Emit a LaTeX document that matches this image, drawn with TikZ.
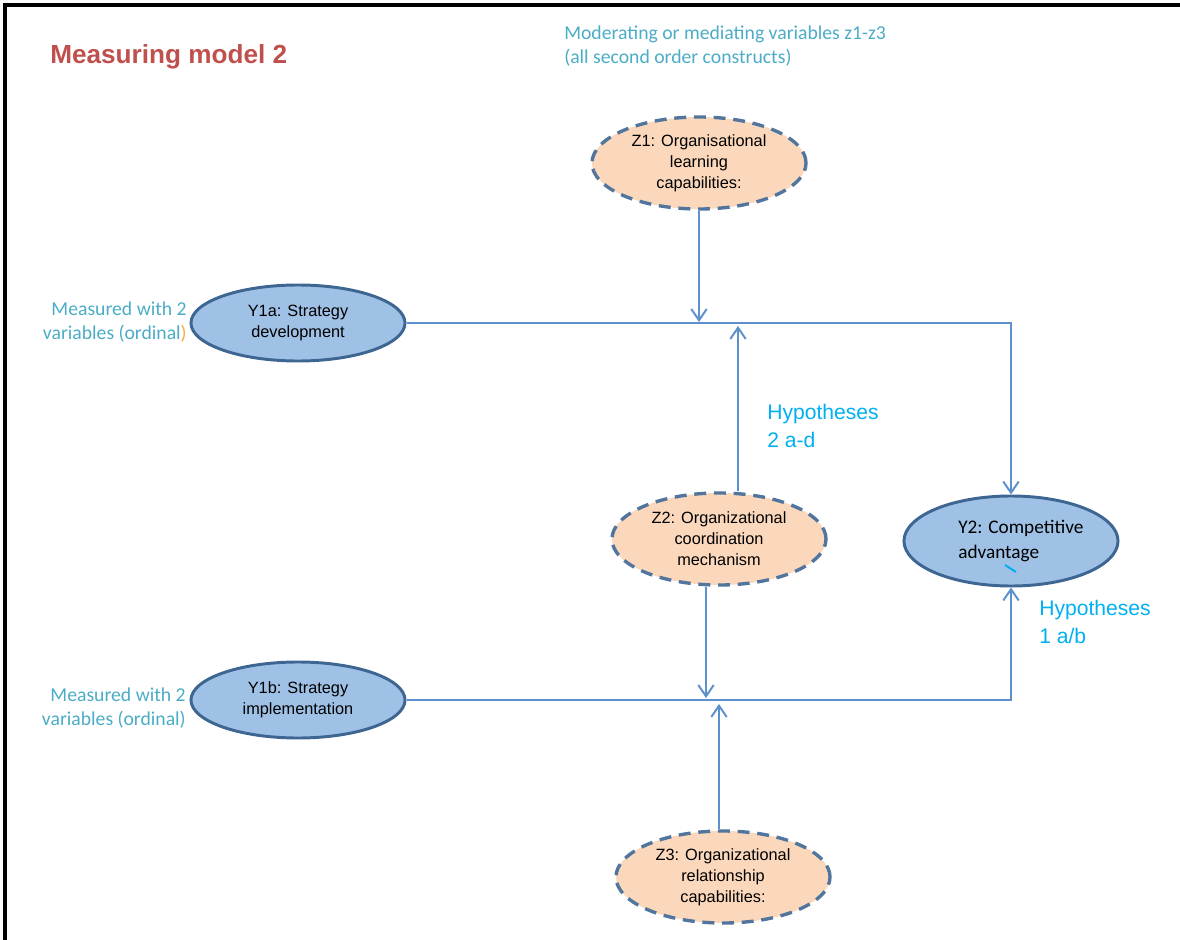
\documentclass[tikz,border=0pt]{standalone}
\usepackage{fontspec}
\setmainfont{Liberation Sans}
\newfontfamily\calib{Carlito}
\usetikzlibrary{shapes.geometric, arrows.meta, calc}
\definecolor{titlered}{RGB}{192,80,77}
\definecolor{notecyan}{RGB}{75,172,198}
\definecolor{hypblue}{RGB}{0,176,240}
\definecolor{linkblue}{RGB}{92,145,205}
\definecolor{yfill}{RGB}{160,193,230}
\definecolor{ydraw}{RGB}{62,102,146}
\definecolor{zfill}{RGB}{251,216,188}
\definecolor{ordorange}{RGB}{245,175,60}

\begin{document}
\begin{tikzpicture}[x=0.025cm, y=-0.025cm,
    latent/.style={draw=ydraw, fill=yfill, line width=2.1pt, ellipse, inner sep=0pt, align=center,
        minimum width=5.35cm, font=\fontsize{11.6}{14.9}\selectfont},
    moder/.style={draw=ydraw!90, fill=zfill, line width=2.4pt, dash pattern=on 8.5pt off 5.5pt, ellipse,
        inner sep=0pt, align=center, minimum width=5.35cm, minimum height=2.3cm,
        font=\fontsize{11.6}{14.9}\selectfont},
    note/.style={text=notecyan, inner sep=0pt, font=\calib\fontsize{14}{17.7}\selectfont},
    hyp/.style={text=hypblue, inner sep=0pt, align=left, anchor=west, font=\fontsize{15}{19.8}\selectfont},
    link/.style={draw=linkblue, line width=1.4pt, -{Straight Barb[length=8pt, width=11pt]}}]

    \useasboundingbox (0,0) rectangle (1180,940);
    \draw[line width=2.4pt] (5,940) -- (5,5) -- (1180,5);

    \node (title) [anchor=west, inner sep=0pt, text=titlered, font=\bfseries\fontsize{18.6}{22}\selectfont] at (50,57) {Measuring model 2};
    \node (modnote) [note, anchor=west, align=left] at (564,46) {Moderating or mediating variables z1-z3\\(all second order constructs)};

    \node (z1) [moder] at (699,163) {Z1: Organisational\\learning\\capabilities:};
    \node (z2) [moder] at (719,539) {Z2: Organizational\\coordination\\mechanism};
    \node (z3) [moder] at (723,877) {Z3: Organizational\\relationship\\capabilities:};

    \node (y1a) [latent, minimum height=1.9cm] at (298,323) {Y1a: Strategy\\development};
    \node (y1b) [latent, minimum height=1.9cm] at (298,700) {Y1b: Strategy\\implementation};
    \node (y2) [latent, minimum height=2.25cm, align=left, font=\calib\fontsize{13.7}{17.7}\selectfont] at (1011,541) {\hspace*{14pt}Y2: Competitive\\\hspace*{14pt}advantage};

    \node (mesa) [note, anchor=east, align=right] at (187,322) {Measured with 2\\variables (ordinal\textcolor{ordorange}{)}};
    \node (mesb) [note, anchor=east, align=right] at (186,708) {Measured with 2\\variables (ordinal)};

    \node (hyp2) [hyp] at (767,426) {Hypotheses\\2 a-d};
    \node (hyp1) [hyp] at (1039,622) {Hypotheses\\1 a/b};

    \coordinate (m1) at (699,322);
    \coordinate (m2) at (738,326);
    \coordinate (m3) at (706,698);
    \coordinate (m4) at (719,704);

    \draw[link] (y1a.east) -| (y2);
    \draw[link] (y1b.east) -| (y2);
    \draw[link] (z1.south -| m1) -- (m1);
    \draw[link] (z2.north -| m2) -- (m2);
    \draw[link] (z2.south -| m3) -- (m3);
    \draw[link] (z3.north -| m4) -- (m4);

    \draw[hypblue, line width=1.4pt] (1005,565) -- (1016,572);

\end{tikzpicture}
\end{document}
